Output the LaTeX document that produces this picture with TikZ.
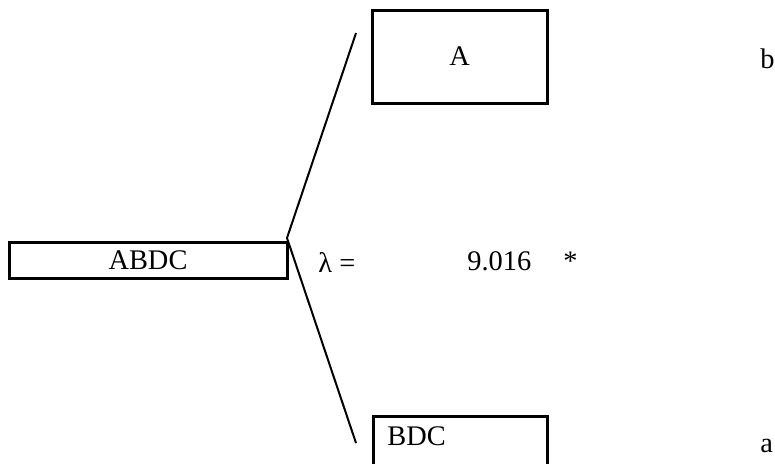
\documentclass[tikz,border=0pt]{standalone}
\usepackage{fontspec}
\setmainfont{Liberation Serif}
\begin{document}
\begin{tikzpicture}[x=0.5pt,y=-0.5pt,
        every node/.append style={font=\fontsize{14.2}{17}\selectfont},
        box/.style={draw,line width=1.5pt,inner sep=0pt},
        tag/.style={anchor=base west,inner sep=0pt}]
	\useasboundingbox (0,0) rectangle (775,463);
	\node[box,minimum width=139pt,minimum height=18pt] (abdc) at (148,260) {ABDC};
	\node[box,minimum width=87.5pt,minimum height=46.5pt] (a) at (459.5,56.5) {A};
	\node[box,minimum width=87pt,minimum height=30pt] (bdc) at (460,446) {};
	\node[tag] (bdclabel) at (387,445) {BDC};
	\coordinate (fork) at (287,238);
	\coordinate (uptip) at (356,33);
	\coordinate (lowtip) at (356,443);
	\draw[line width=1pt] (uptip) -- (fork) -- (lowtip);
	\node[tag] (lambda) at (318,272) {λ =};
	\node[tag] (value) at (467,270) {9.016};
	\node[tag] (star) at (563,270) {*};
	\node[tag] (b) at (760,68) {b};
	\node[tag] (alow) at (760,452) {a};
\end{tikzpicture}
\end{document}
